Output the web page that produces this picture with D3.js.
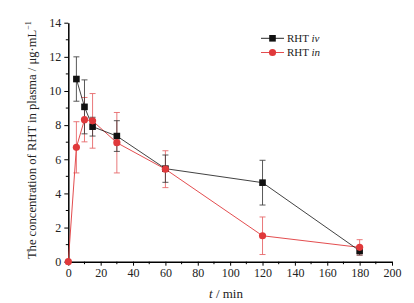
<!DOCTYPE html>
<html>
<head>
<meta charset="utf-8">
<script src="https://cdn.jsdelivr.net/npm/d3@7"></script>
<style>
  body { margin: 0; background: #fff; }
  svg text { font-family: "Liberation Serif", "Times New Roman", serif; fill: #222; }
</style>
</head>
<body>
<svg id="chart" width="414" height="303"></svg>
<script>
// RHT iv (black squares)
var ivTimes = [5, 10, 15, 30, 60, 120, 180];
var ivMean  = [10.7, 9.07, 7.91, 7.36, 5.45, 4.63, 0.64];
var ivErr   = [1.3, 1.58, 0.55, 0.9, 0.8, 1.31, 0.25];

// RHT in (red circles)
var inTimes = [0, 5, 10, 15, 30, 60, 120, 180];
var inMean  = [0, 6.7, 8.32, 8.25, 6.97, 5.42, 1.52, 0.84];
var inErr   = [0, 1.5, 1.3, 1.6, 1.77, 1.08, 1.1, 0.45];

var xTicks = [0, 20, 40, 60, 80, 100, 120, 140, 160, 180, 200];
var yTicks = [0, 2, 4, 6, 8, 10, 12, 14];

var margin = {top: 22.7, right: 22, bottom: 41.3, left: 68.3};
var width = 414, height = 303;

var x = d3.scaleLinear().domain([0, 200]).range([margin.left, width - margin.right]);
var y = d3.scaleLinear().domain([0, 14]).range([height - margin.bottom, margin.top]);

var svg = d3.select("#chart");

var black = "#111";
var red = "#e0393b";

function series(times, mean, err) {
  return times.map((t, i) => ({t: t, v: mean[i], e: err[i]}));
}
var ivData = series(ivTimes, ivMean, ivErr);
var inData = series(inTimes, inMean, inErr);

// minor ticks
var minorX = d3.range(10, 200, 20);
var minorY = d3.range(1, 14, 2);

var gx = svg.append("g").attr("transform", `translate(0,${y(0)})`);
gx.call(d3.axisBottom(x).tickValues(xTicks).tickSize(4).tickSizeOuter(0).tickPadding(3));
gx.selectAll(".minor").data(minorX).enter().append("line")
  .attr("x1", d => x(d)).attr("x2", d => x(d)).attr("y1", 0).attr("y2", 2.5)
  .attr("stroke", "#000");

var gy = svg.append("g").attr("transform", `translate(${x(0)},0)`);
gy.call(d3.axisLeft(y).tickValues(yTicks).tickSize(4).tickSizeOuter(0).tickPadding(3));
gy.selectAll(".minor").data(minorY).enter().append("line")
  .attr("y1", d => y(d)).attr("y2", d => y(d)).attr("x1", 0).attr("x2", -2.5)
  .attr("stroke", "#000");

svg.selectAll(".domain").attr("stroke", "#000").attr("stroke-width", 1.5);
svg.selectAll(".tick line").attr("stroke", "#000");
svg.selectAll(".tick text").attr("font-size", 12).attr("fill", "#333")
  .style("font-family", "Liberation Serif, serif");

// error bars
function errorBars(data, color, opacity) {
  var g = svg.append("g").attr("stroke", color).attr("stroke-width", 0.9).attr("opacity", opacity);
  data.filter(d => d.e > 0).forEach(d => {
    var cx = x(d.t);
    g.append("line").attr("x1", cx).attr("x2", cx).attr("y1", y(d.v - d.e)).attr("y2", y(d.v + d.e));
    g.append("line").attr("x1", cx - 3).attr("x2", cx + 3).attr("y1", y(d.v - d.e)).attr("y2", y(d.v - d.e));
    g.append("line").attr("x1", cx - 3).attr("x2", cx + 3).attr("y1", y(d.v + d.e)).attr("y2", y(d.v + d.e));
  });
}
errorBars(inData, red, 0.75);
errorBars(ivData, "#333", 0.9);

var line = d3.line().x(d => x(d.t)).y(d => y(d.v));

svg.append("path").datum(inData).attr("d", line)
  .attr("fill", "none").attr("stroke", red).attr("stroke-width", 0.9);
svg.append("path").datum(ivData).attr("d", line)
  .attr("fill", "none").attr("stroke", black).attr("stroke-width", 0.8);

svg.selectAll(".sq").data(ivData).enter().append("rect")
  .attr("x", d => x(d.t) - 3.3).attr("y", d => y(d.v) - 3.3)
  .attr("width", 6.6).attr("height", 6.6).attr("fill", black);

svg.selectAll(".ci").data(inData).enter().append("circle")
  .attr("cx", d => x(d.t)).attr("cy", d => y(d.v)).attr("r", 3.6)
  .attr("fill", red);

// legend
var legend = [
  {name: "RHT ", it: "iv", color: black, shape: "square", yy: 38.3},
  {name: "RHT ", it: "in", color: red, shape: "circle", yy: 52.5}
];
legend.forEach(l => {
  var g = svg.append("g");
  g.append("line").attr("x1", 261).attr("x2", 284).attr("y1", l.yy).attr("y2", l.yy)
    .attr("stroke", l.color).attr("stroke-width", 0.9);
  if (l.shape === "square") {
    g.append("rect").attr("x", 272.5 - 3.3).attr("y", l.yy - 3.3).attr("width", 6.6).attr("height", 6.6).attr("fill", l.color);
  } else {
    g.append("circle").attr("cx", 272.5).attr("cy", l.yy).attr("r", 3.6).attr("fill", l.color);
  }
  var t = g.append("text").attr("x", 287).attr("y", l.yy + 3.8).attr("font-size", 11);
  t.append("tspan").text(l.name);
  t.append("tspan").attr("font-style", "italic").text(l.it);
});

// axis titles
var xt = svg.append("text").attr("x", 226).attr("y", 298).attr("text-anchor", "middle").attr("font-size", 13);
xt.append("tspan").attr("font-style", "italic").text("t");
xt.append("tspan").text(" / min");

var yt = svg.append("text")
  .attr("transform", `translate(36,${(y(0) + y(14)) / 2 - 2}) rotate(-90)`)
  .attr("text-anchor", "middle").attr("font-size", 12.6);
yt.append("tspan").text("The concentration of RHT in plasma / μg·mL");
yt.append("tspan").attr("font-size", 8).attr("dy", -5).text("−1");
</script>
</body>
</html>
